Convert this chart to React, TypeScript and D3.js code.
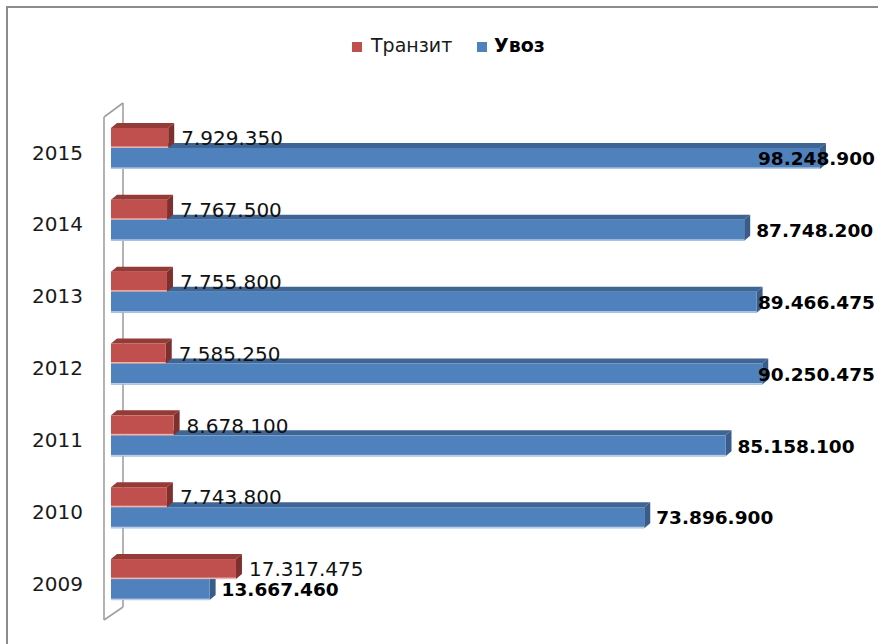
import React from "react";
import * as d3 from "d3";

const years = ["2009", "2010", "2011", "2012", "2013", "2014", "2015"];
const transit = [17317475, 7743800, 8678100, 7585250, 7755800, 7767500, 7929350];
const uvoz = [13667460, 73896900, 85158100, 90250475, 89466475, 87748200, 98248900];
const seriesNames = ["Транзит", "Увоз"];

const W = 878;
const H = 644;
const DX = 6;
const DY = -5;
const LABEL_MAX_RIGHT = 875;

const fmt = (v: number) => d3.format(",")(v).replace(/,/g, ".");

let ctx: CanvasRenderingContext2D | null = null;
function measure(text: string, font: string) {
  if (!ctx) {
    const c = document.createElement("canvas");
    ctx = c.getContext("2d");
  }
  if (!ctx) return text.length * 12;
  ctx.font = font;
  return ctx.measureText(text).width;
}

function Bar({ x0, x1, y0, y1, front, top, side, hl }: any) {
  const topPts = [
    [x0, y0],
    [x0 + DX, y0 + DY],
    [x1 + DX, y0 + DY],
    [x1, y0],
  ];
  const sidePts = [
    [x1, y0],
    [x1 + DX, y0 + DY],
    [x1 + DX, y1 + DY],
    [x1, y1],
  ];
  const p = (pts: number[][]) => pts.map((q) => q.join(",")).join(" ");
  return (
    <g>
      <polygon points={p(topPts)} fill={top} />
      <polygon points={p(sidePts)} fill={side} />
      <rect x={x0} y={y0} width={x1 - x0} height={y1 - y0} fill={front} />
      <rect x={x0} y={y1 - 1.5} width={x1 - x0} height={1.5} fill={hl} />
    </g>
  );
}

export default function App() {
  const x = d3.scaleLinear().domain([0, 100000000]).range([111, 832.6]);
  const y = d3
    .scaleBand()
    .domain([...years].reverse())
    .range([112, 615])
    .padding(0);

  const cy = (yr: string) => (y(yr) as number) + y.bandwidth() / 2;

  const redFont = "20px 'DejaVu Sans'";
  const blueFont = "bold 18.5px 'DejaVu Sans'";

  const wall = "#a0a0a0";

  return (
    <svg
      width={W}
      height={H}
      style={{ position: "absolute", left: 0, top: 0, background: "#fff" }}
      fontFamily="'DejaVu Sans', sans-serif"
    >
      <rect x={0} y={0} width={W} height={H} fill="#fff" />
      <rect x={7} y={7} width={W + 20} height={H + 20} fill="none" stroke="#8c8c8c" strokeWidth={2} />

      {/* Legend */}
      <g>
        <rect x={352} y={42} width={10} height={10} fill="#C0504D" />
        <text x={371} y={52} fontSize={19} fill="#1a1a1a">
          {seriesNames[0]}
        </text>
        <rect x={477} y={42} width={10} height={10} fill="#4F81BD" />
        <text x={494} y={52} fontSize={19} fontWeight="bold" fill="#000">
          {seriesNames[1]}
        </text>
      </g>

      {/* Wall */}
      <g stroke={wall} strokeWidth={1.6} fill="none">
        <line x1={104} y1={117} x2={104} y2={620} />
        <line x1={123} y1={103} x2={123} y2={607} />
        <line x1={104} y1={117} x2={123} y2={103} />
        <line x1={104} y1={620} x2={123} y2={607} />
      </g>

      {/* Category labels */}
      {years.map((yr) => (
        <text
          key={"yl" + yr}
          x={83}
          y={cy(yr) + 4.5}
          dy="0.36em"
          textAnchor="end"
          fontSize={20}
          fill="#1a1a1a"
        >
          {yr}
        </text>
      ))}

      {/* Bars */}
      {years.map((yr, i) => {
        const c = cy(yr);
        return (
          <g key={"b" + yr}>
            <Bar
              x0={x(0)}
              x1={x(uvoz[i])}
              y0={c}
              y1={c + 21}
              front="#4F81BD"
              top="#3F6594"
              side="#385D8A"
              hl="#B9CDE5"
            />
            <Bar
              x0={x(0)}
              x1={x(transit[i])}
              y0={c - 20}
              y1={c}
              front="#C0504D"
              top="#943A37"
              side="#7E302E"
              hl="#E6B9B8"
            />
          </g>
        );
      })}

      {/* Data labels */}
      {years.map((yr, i) => {
        const c = cy(yr);
        const rt = fmt(transit[i]);
        const bt = fmt(uvoz[i]);
        const rw = measure(rt, redFont);
        const bw = measure(bt, blueFont);
        const rx = Math.min(x(transit[i]) + 13, LABEL_MAX_RIGHT - rw);
        const bx = Math.min(x(uvoz[i]) + 12, LABEL_MAX_RIGHT - bw);
        return (
          <g key={"l" + yr}>
            <text x={rx} y={c - 10} dy="0.36em" fontSize={20} fill="#111">
              {rt}
            </text>
            <text x={bx} y={c + 10.5} dy="0.36em" fontSize={18.5} fontWeight="bold" fill="#000">
              {bt}
            </text>
          </g>
        );
      })}
    </svg>
  );
}
